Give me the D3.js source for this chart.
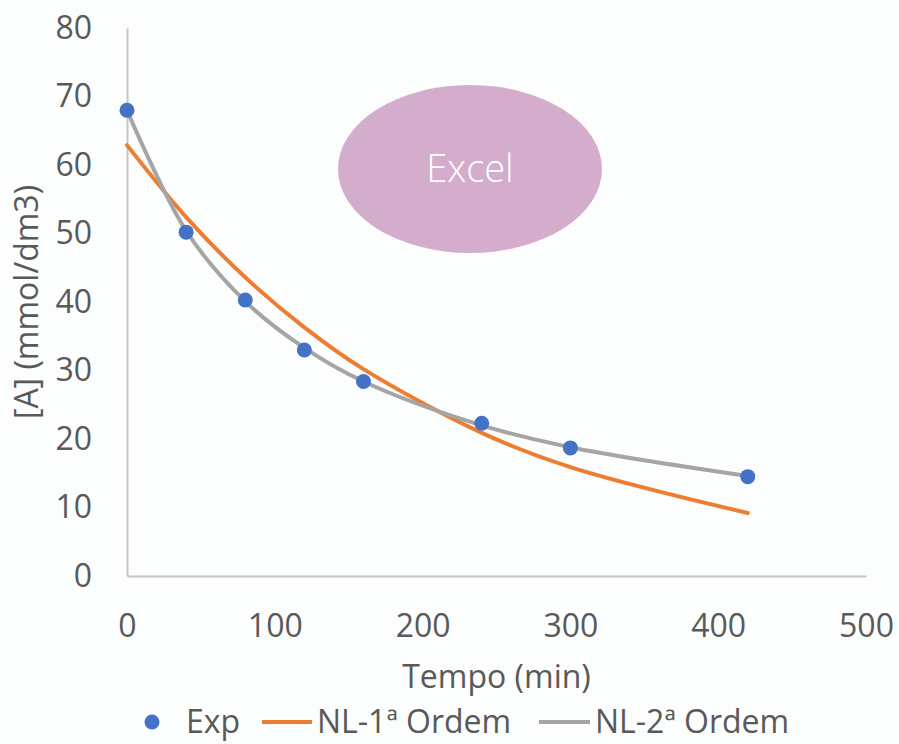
<!DOCTYPE html>
<html>
<head>
<meta charset="utf-8">
<script src="https://cdn.jsdelivr.net/npm/d3@7"></script>
<style>
  body { margin: 0; background: #fcfdfd; }
  svg { display: block; }
  svg text { font-family: 'Open Sans', sans-serif; }
</style>
</head>
<body>
<div id="viz"></div>
<script>
const width = 899;
const height = 744;
const margin = {top: 28, right: 33, bottom: 168, left: 127};
const fontSize = '32px';

// Data
const tempo = [0, 40, 80, 120, 160, 240, 300, 420];
const expValues = [68, 50.2, 40.3, 33.0, 28.4, 22.3, 18.7, 14.5];
const nl1Values = [62.9, 52.4, 43.6, 36.3, 30.2, 20.9, 15.9, 9.2];
const nl2Values = [68, 50.4, 40.1, 33.3, 28.4, 22.0, 18.8, 14.6];
const xTicks = [0, 100, 200, 300, 400, 500];
const yTicks = [0, 10, 20, 30, 40, 50, 60, 70, 80];
const seriesNames = ['Exp', 'NL-1ª Ordem', 'NL-2ª Ordem'];
const colors = ['#4472c4', '#ed7d31', '#a5a5a5'];

const textColor = '#595959';
const axisColor = '#c6c6c6';

const svg = d3.select('#viz')
  .append('svg')
    .attr('width', width)
    .attr('height', height);

const xScale = d3.scaleLinear()
  .domain([0, 500])
  .range([margin.left, width - margin.right]);
const yScale = d3.scaleLinear()
  .domain([0, 80])
  .range([height - margin.bottom, margin.top]);

// Axes
const xAxis = d3.axisBottom(xScale).tickValues(xTicks).tickSize(0).tickPadding(38);
const xAxisGroup = svg.append('g')
  .attr('transform', `translate(0, ${yScale(0)})`)
  .call(xAxis);
const yAxis = d3.axisLeft(yScale).tickValues(yTicks).tickSize(0).tickPadding(35);
const yAxisGroup = svg.append('g')
  .attr('transform', `translate(${xScale(0)}, 0)`)
  .call(yAxis);

[xAxisGroup, yAxisGroup].forEach(g => {
  g.attr('font-family', null).attr('font-size', null);
  g.select('.domain').attr('stroke', axisColor).attr('stroke-width', 2);
  g.selectAll('text')
    .attr('fill', textColor)
    .style('font-size', fontSize);
});

// Axis titles
svg.append('text')
  .attr('x', (xScale(0) + xScale(500)) / 2)
  .attr('y', 688)
  .attr('text-anchor', 'middle')
  .attr('fill', textColor)
  .style('font-size', fontSize)
  .text('Tempo (min)');
svg.append('text')
  .attr('transform', `translate(27, ${(yScale(0) + yScale(80)) / 2}) rotate(-90)`)
  .attr('text-anchor', 'middle')
  .attr('dy', '0.35em')
  .attr('fill', textColor)
  .style('font-size', fontSize)
  .text('[A] (mmol/dm3)');

// "Excel" ellipse
svg.append('ellipse')
  .attr('cx', 470)
  .attr('cy', 169)
  .attr('rx', 132)
  .attr('ry', 84)
  .attr('fill', '#d4adcd');
svg.append('text')
  .attr('x', 470)
  .attr('y', 182)
  .attr('text-anchor', 'middle')
  .attr('fill', '#ffffff')
  .style('font-size', '38px')
  .style('font-weight', 300)
  .text('Excel');

// Curves
const line = d3.line()
  .x(d => xScale(d[0]))
  .y(d => yScale(d[1]))
  .curve(d3.curveCatmullRom.alpha(0.5));

[nl1Values, nl2Values].forEach((vals, i) => {
  svg.append('path')
    .attr('d', line(d3.zip(tempo, vals)))
    .attr('fill', 'none')
    .attr('stroke', colors[i + 1])
    .attr('stroke-width', 4)
    .attr('stroke-linecap', 'round');
});

// Experimental points
svg.append('g')
  .attr('fill', colors[0])
  .selectAll('circle')
  .data(d3.zip(tempo, expValues))
  .join('circle')
    .attr('cx', d => xScale(d[0]))
    .attr('cy', d => yScale(d[1]))
    .attr('r', 7.5);

// Legend
const legendY = 722;
const legend = svg.append('g');
legend.append('circle')
  .attr('cx', 152).attr('cy', legendY).attr('r', 7.5).attr('fill', colors[0]);
legend.append('text')
  .attr('x', 186).attr('y', legendY).attr('dy', '0.35em')
  .attr('fill', textColor).style('font-size', fontSize).text(seriesNames[0]);
legend.append('line')
  .attr('x1', 262).attr('x2', 312).attr('y1', legendY).attr('y2', legendY)
  .attr('stroke', colors[1]).attr('stroke-width', 4);
legend.append('text')
  .attr('x', 317).attr('y', legendY).attr('dy', '0.35em')
  .attr('fill', textColor).style('font-size', fontSize).text(seriesNames[1]);
legend.append('line')
  .attr('x1', 539).attr('x2', 590).attr('y1', legendY).attr('y2', legendY)
  .attr('stroke', colors[2]).attr('stroke-width', 4);
legend.append('text')
  .attr('x', 595).attr('y', legendY).attr('dy', '0.35em')
  .attr('fill', textColor).style('font-size', fontSize).text(seriesNames[2]);
</script>
</body>
</html>
